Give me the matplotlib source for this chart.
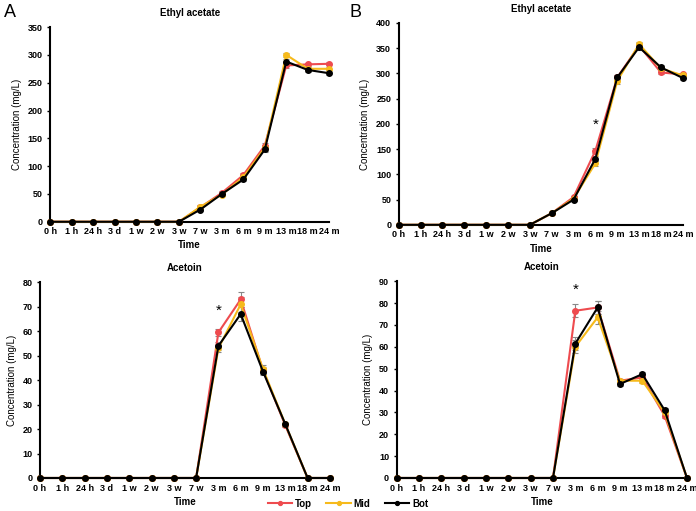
import matplotlib
matplotlib.use('Agg')
from matplotlib import pyplot as plt
import numpy as np

plt.rcParams['font.family'] = ['Liberation Sans', 'DejaVu Sans']

times = ["0 h", "1 h", "24 h", "3 d", "1 w", "2 w", "3 w", "7 w", "3 m", "6 m", "9 m", "13 m", "18 m", "24 m"]
series_names = ["Top", "Mid", "Bot"]
series_colors = ["#EE4B4F", "#F6BA1C", "#000000"]

# panel A, ethyl acetate
ea_a_top = [0, 0, 0, 0, 0, 0, 0, 26, 52, 84, 137, 281, 283, 284]
ea_a_mid = [0, 0, 0, 0, 0, 0, 0, 27, 49, 80, 133, 300, 275, 275]
ea_a_bot = [0, 0, 0, 0, 0, 0, 0, 22, 50, 76, 130, 288, 273, 267]
ea_a_err = [0, 0, 0, 0, 0, 0, 0, 3, 3, 3, 5, 4, 3, 3]

# panel B, ethyl acetate
ea_b_top = [0, 0, 0, 0, 0, 0, 0, 23, 55, 147, 292, 355, 302, 298]
ea_b_mid = [0, 0, 0, 0, 0, 0, 0, 23, 52, 122, 285, 358, 310, 296]
ea_b_bot = [0, 0, 0, 0, 0, 0, 0, 23, 50, 131, 292, 352, 312, 291]
ea_b_err = [0, 0, 0, 0, 0, 0, 0, 2, 3, 5, 5, 5, 4, 3]

# panel A, acetoin
ac_a_top = [0, 0, 0, 0, 0, 0, 0, 0, 59.5, 73, 44, 21.5, 0, 0]
ac_a_mid = [0, 0, 0, 0, 0, 0, 0, 0, 53, 71, 44.5, 22, 0, 0]
ac_a_bot = [0, 0, 0, 0, 0, 0, 0, 0, 54, 67, 43.5, 22, 0, 0]
ac_a_err = [0, 0, 0, 0, 0, 0, 0, 0, 1.5, 3, 1.5, 0.5, 0, 0]

# panel B, acetoin
ac_b_top = [0, 0, 0, 0, 0, 0, 0, 0, 76.5, 78, 44.5, 46, 28.5, 0]
ac_b_mid = [0, 0, 0, 0, 0, 0, 0, 0, 60, 73.5, 44.5, 44.5, 30, 0]
ac_b_bot = [0, 0, 0, 0, 0, 0, 0, 0, 61.5, 78, 43, 47.5, 31, 0]
ac_b_err = [0, 0, 0, 0, 0, 0, 0, 0, 3, 3, 1, 1, 1, 0]

panels = [
    ("Ethyl acetate", [ea_a_top, ea_a_mid, ea_a_bot], ea_a_err, 350, 50, None, [0.072, 0.566, 0.401, 0.381]),
    ("Ethyl acetate", [ea_b_top, ea_b_mid, ea_b_bot], ea_b_err, 400, 50, (9, 198), [0.573, 0.560, 0.408, 0.395]),
    ("Acetoin", [ac_a_top, ac_a_mid, ac_a_bot], ac_a_err, 80, 10, (8, 68.5), [0.0575, 0.0646, 0.4165, 0.383]),
    ("Acetoin", [ac_b_top, ac_b_mid, ac_b_bot], ac_b_err, 90, 10, (8, 86), [0.570, 0.0646, 0.417, 0.385]),
]

fig = plt.figure(figsize=(6.96, 5.11), dpi=100)
x = np.arange(len(times))
handles = []
for title, ys, err, ymax, ystep, star, rect in panels:
    ax = fig.add_axes(rect)
    for name, y, c in zip(series_names, ys, series_colors):
        y = np.array(y, dtype=float)
        ax.errorbar(x, y, yerr=np.array(err), fmt='none', ecolor='#888888',
                    elinewidth=0.8, capsize=2, capthick=0.8, zorder=2)
        h, = ax.plot(x, y, color=c, lw=1.5, marker='o', ms=4, label=name, zorder=3, clip_on=False)
        if len(handles) < 3:
            handles.append(h)
    ax.set_xlim(0, len(times) - 1)
    ax.set_ylim(0, ymax)
    ax.set_yticks(np.arange(0, ymax + 1, ystep))
    ax.set_xticks(x)
    ax.set_xticklabels(times)
    ax.tick_params(axis='both', labelsize=6.5, width=1, length=2)
    ax.tick_params(axis='x', length=0, pad=4)
    for lab in ax.get_xticklabels() + ax.get_yticklabels():
        lab.set_fontweight('bold')
    for s in ['top', 'right']:
        ax.spines[s].set_visible(False)
    for s in ['left', 'bottom']:
        ax.spines[s].set_linewidth(1.5)
    ax.set_title(title, fontsize=7, fontweight='bold', pad=8)
    ax.set_xlabel("Time", fontsize=7, fontweight='bold', labelpad=3)
    ax.set_ylabel("Concentration (mg/L)", fontsize=7, labelpad=4)
    if star is not None:
        ax.text(star[0], star[1], "*", ha='center', va='center', fontsize=11)

fig.text(0.005, 0.975, "A", fontsize=13, va='center')
fig.text(0.502, 0.975, "B", fontsize=13, va='center')
fig.legend(handles=handles, loc='center', bbox_to_anchor=(0.5, 0.014), ncol=3, frameon=False,
           prop={'size': 7, 'weight': 'bold'}, handlelength=2.5, columnspacing=1.5, handletextpad=0.3,
           markerscale=0.7)

fig.savefig("out.png", dpi=100)
